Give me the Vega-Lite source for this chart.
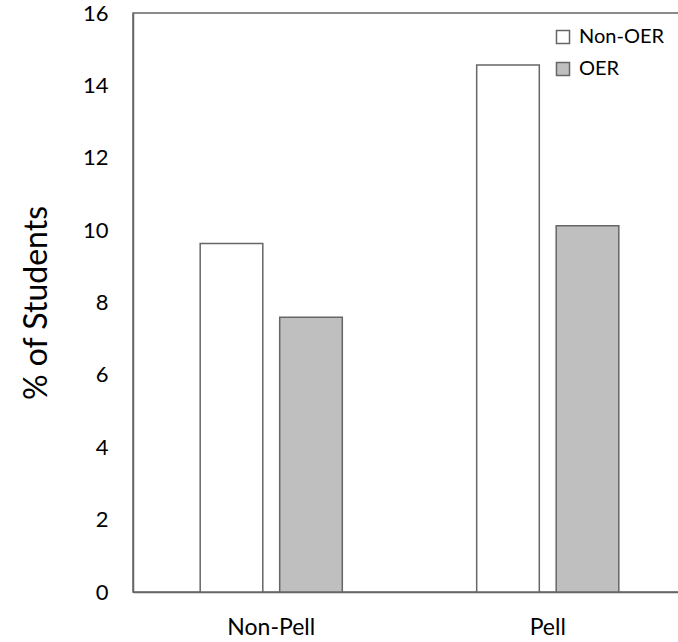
{
  "$schema": "https://vega.github.io/schema/vega-lite/v6.json",
  "autosize": {"type": "none"},
  "padding": {"left": 133, "top": 13, "right": 0, "bottom": 50},
  "width": 553,
  "height": 579,
  "background": "white",
  "config": {
    "font": "Lato",
    "view": {"stroke": "#666666", "strokeWidth": 1.5},
    "axis": {"domainColor": "#666666", "domainWidth": 1.5, "ticks": false, "grid": false, "labelColor": "#000000", "labelFont": "Lato", "titleFont": "Lato", "titleColor": "#000000"}
  },
  "data": {
    "values": [
      {"group": "Non-Pell", "type": "Non-OER", "value": 9.63},
      {"group": "Non-Pell", "type": "OER", "value": 7.59},
      {"group": "Pell", "type": "Non-OER", "value": 14.56},
      {"group": "Pell", "type": "OER", "value": 10.12}
    ]
  },
  "mark": {"type": "bar", "stroke": "#666666", "strokeWidth": 1.5},
  "encoding": {
    "x": {
      "field": "group", "type": "nominal", "sort": ["Non-Pell", "Pell"],
      "scale": {"paddingInner": 0.486, "paddingOuter": 0.243},
      "axis": {"title": null, "labelAngle": 0, "labelFontSize": 23, "labelPadding": 24}
    },
    "xOffset": {"field": "type", "type": "nominal", "sort": ["Non-OER", "OER"], "scale": {"paddingInner": 0.2125, "paddingOuter": 0}},
    "y": {
      "field": "value", "type": "quantitative",
      "scale": {"domain": [0, 16], "nice": false},
      "axis": {"title": "% of Students", "titleFontSize": 32, "titleFontWeight": "normal", "titlePadding": 29, "values": [0, 2, 4, 6, 8, 10, 12, 14, 16], "labelFontSize": 22, "labelPadding": 25}
    },
    "fill": {
      "field": "type", "type": "nominal", "sort": ["Non-OER", "OER"],
      "scale": {"domain": ["Non-OER", "OER"], "range": ["#ffffff", "#bfbfbf"]},
      "legend": {"title": null, "orient": "none", "legendX": 420, "legendY": 14, "symbolType": "square", "symbolSize": 170, "symbolStrokeColor": "#666666", "symbolStrokeWidth": 1.5, "labelFontSize": 20, "labelColor": "#000000", "rowPadding": 12, "labelOffset": 6, "padding": 0}
    }
  }
}
